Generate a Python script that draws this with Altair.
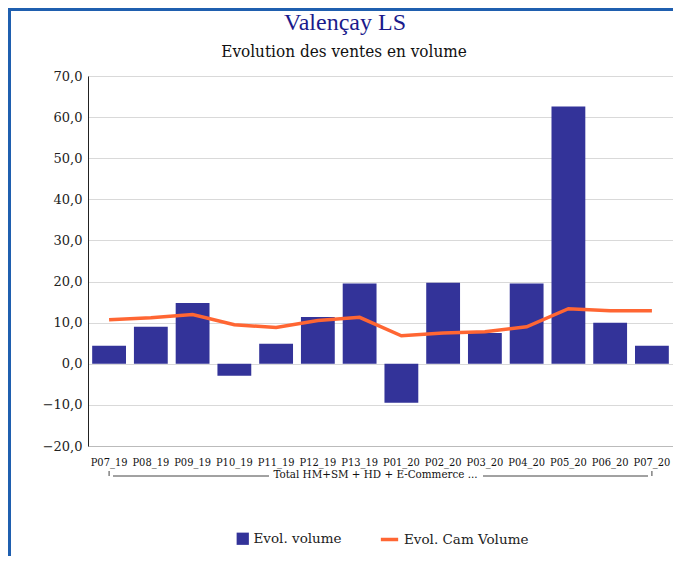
import altair as alt
import pandas as pd

periods = ["P07_19", "P08_19", "P09_19", "P10_19", "P11_19", "P12_19", "P13_19",
           "P01_20", "P02_20", "P03_20", "P04_20", "P05_20", "P06_20", "P07_20"]
evol_volume = [4.4, 9.0, 14.8, -2.9, 4.9, 11.4, 19.5, -9.5, 19.7, 7.5, 19.5, 62.6, 10.0, 4.4]
evol_cam = [10.7, 11.2, 12.0, 9.5, 8.8, 10.5, 11.3, 6.8, 7.5, 7.8, 9.0, 13.4, 12.9, 12.9]
y_ticks = [-20, -10, 0, 10, 20, 30, 40, 50, 60, 70]
group_label = "Total HM+SM + HD + E-Commerce ..."
title_text = "Valençay LS"
subtitle_text = "Evolution des ventes en volume"

df = pd.DataFrame({"period": periods, "vol": evol_volume, "cam": evol_cam,
                   "s1": "Evol. volume", "s2": "Evol. Cam Volume"})
one = pd.DataFrame({"dummy": [0]})

W, H = 585, 370
serif = "DejaVu Serif"
cond = "DejaVu Serif Condensed"

xscale = alt.Scale(domain=periods, paddingInner=0.19, paddingOuter=0.1)
yscale = alt.Scale(domain=[-20, 70], nice=False, zero=False)

base = alt.Chart(df)

bars = base.mark_bar().encode(
    x=alt.X("period:N", sort=periods, scale=xscale,
            axis=alt.Axis(title=None, labelAngle=0, ticks=False, domain=True,
                          domainColor="#bbbbbb", labelFont=cond, labelFontSize=11,
                          labelColor="#111111", labelPadding=10, grid=False)),
    y=alt.Y("vol:Q", scale=yscale,
            axis=alt.Axis(title=None, values=y_ticks, ticks=False, domain=True,
                          domainColor="#222222", labelFont=serif, labelFontSize=13,
                          labelColor="#222222", labelPadding=6, grid=True,
                          gridColor="#d9d9d9", gridWidth=1.2,
                          labelExpr="replace(format(datum.value, '.1f'), '.', ',')")),
    fill=alt.Fill("s1:N", scale=alt.Scale(domain=["Evol. volume"], range=["#333399"]),
                  legend=alt.Legend(title=None, orient="none", legendX=148, legendY=456,
                                    symbolType="square", symbolSize=150,
                                    labelFont=serif, labelFontSize=13.5,
                                    labelColor="#222222", symbolStrokeWidth=0)),
)

line = base.mark_line(strokeWidth=3.5).encode(
    x=alt.X("period:N", sort=periods, scale=xscale),
    y=alt.Y("cam:Q", scale=yscale),
    stroke=alt.Stroke("s2:N", scale=alt.Scale(domain=["Evol. Cam Volume"], range=["#FF6633"]),
                      legend=alt.Legend(title=None, orient="none", legendX=291, legendY=453,
                                        symbolType="stroke", symbolSize=300,
                                        symbolStrokeWidth=3.5,
                                        labelFont=serif, labelFontSize=13.5,
                                        labelColor="#222222")),
)

# bracket under the category labels
by = H + 30
bracket_l = alt.Chart(df).mark_rule(color="#444444", strokeWidth=1).encode(
    x=alt.X("period:N", sort=periods, scale=xscale),
    y=alt.value(by - 5), y2=alt.value(by),
).transform_filter(alt.FieldOneOfPredicate(field="period", oneOf=[periods[0], periods[-1]]))

a1 = alt.Chart(one)
hline = a1.mark_rule(color="#444444", strokeWidth=1).encode(
    x=alt.value(25), x2=alt.value(181), y=alt.value(by)
)
hline2 = a1.mark_rule(color="#444444", strokeWidth=1).encode(
    x=alt.value(395), x2=alt.value(560), y=alt.value(by)
)
gtext = a1.mark_text(font=cond, fontSize=11.5, color="#111111",
                     baseline="middle", align="center").encode(
    x=alt.value(287.5), y=alt.value(by - 1), text=alt.value(group_label)
)

# title / subtitle
ttl = a1.mark_text(font="Liberation Serif", fontSize=24, color="#1a1a8c",
                   baseline="alphabetic", align="center").encode(
    x=alt.value(257), y=alt.value(-46), text=alt.value(title_text)
)
sttl = a1.mark_text(font=cond, fontSize=17, color="#111111",
                    baseline="alphabetic", align="center").encode(
    x=alt.value(256), y=alt.value(-19), text=alt.value(subtitle_text)
)

# frame border (top/left)
border_top = a1.mark_rule(color="#1F5FAF", strokeWidth=3).encode(
    x=alt.value(-80), x2=alt.value(W), y=alt.value(-66.5)
)
border_left = a1.mark_rule(color="#1F5FAF", strokeWidth=3).encode(
    x=alt.value(-78.5), y=alt.value(-68), y2=alt.value(H + 110)
)

chart = alt.layer(bars, line, bracket_l, hline, hline2, gtext, ttl, sttl,
                  border_top, border_left).properties(
    width=W, height=H,
    padding={"left": 80, "top": 68, "right": 0, "bottom": 110},
    autosize=alt.AutoSizeParams(type="none"),
).resolve_scale(fill="independent", stroke="independent").configure_view(
    stroke=None
).configure(background="white")

chart.save("out.html", embed_options={"renderer": "svg", "actions": False})
